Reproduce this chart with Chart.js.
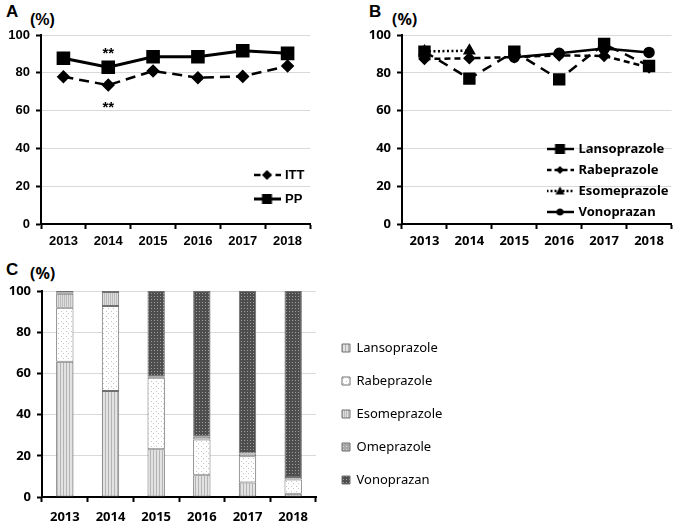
<!DOCTYPE html>
<html>
<head>
<meta charset="utf-8">
<script src="https://cdn.jsdelivr.net/npm/chart.js@4.4.1/dist/chart.umd.min.js"></script>
<style>
  body { margin: 0; background: #fff; width: 681px; height: 525px; position: relative; overflow: hidden; }
  canvas { position: absolute; }
  .lbl { position: absolute; color: #000; line-height: 1; white-space: nowrap; font-weight: bold; }
</style>
</head>
<body>
<div class="lbl" style="left:6px;top:3px;font-size:17px;font-family:'Liberation Sans'">A</div>
<div class="lbl" style="left:30px;top:12px;font-size:16px;font-family:'Liberation Sans'">(%)</div>
<div class="lbl" style="left:369px;top:3px;font-size:17px;font-family:'Liberation Sans'">B</div>
<div class="lbl" style="left:392px;top:11px;font-size:16px;font-family:'Noto Sans'">(%)</div>
<div class="lbl" style="left:6px;top:261px;font-size:17px;font-family:'Liberation Sans'">C</div>
<div class="lbl" style="left:30px;top:265px;font-size:16px;font-family:'Noto Sans'">(%)</div>

<canvas id="chartA" width="340" height="250" style="left:0;top:0"></canvas>
<canvas id="chartB" width="341" height="250" style="left:340px;top:0"></canvas>
<canvas id="chartC" width="681" height="275" style="left:0;top:250px"></canvas>

<script>
// data
const years = ['2013', '2014', '2015', '2016', '2017', '2018'];

// A: eradication rate, ITT / PP
const ittRate = [77.9, 73.5, 81.0, 77.4, 78.1, 83.6];
const ppRate = [87.7, 82.9, 88.5, 88.5, 91.7, 90.3];
const starYear = '2014';

// B: eradication rate by acid suppressant
const lansoRate = [91.2, 76.9, 91.2, 76.5, 95.2, 83.6];
const rabeRate = [87.3, 87.7, 88.3, 89.2, 88.9, 82.8];
const esoRate = [91.3, 91.7, null, null, null, null];
const vonoRate = [null, null, 88.2, 90.3, 92.8, 90.8];

// C: share of prescriptions (%)
const lansoShare = [65.6, 51.4, 23.2, 10.5, 7.0, 1.6];
const rabeShare = [26.3, 41.3, 34.7, 17.4, 12.8, 6.9];
const esoShare = [6.8, 6.8, 0.5, 1.3, 1.3, 1.2];
const omeShare = [1.3, 0.5, null, null, null, null];
const vonoShare = [null, null, 41.6, 70.8, 78.9, 90.3];

Chart.defaults.animation = false;
Chart.defaults.color = '#000';

const fontA = { family: "'Liberation Sans'", size: 13, weight: 'bold' };
const fontB = { family: "'Noto Sans'", size: 13, weight: 'bold' };

function yAxis(font, width) {
  return {
    min: 0,
    max: 100,
    ticks: { stepSize: 20, color: '#000', font: font, padding: 6 },
    grid: {
      color: ctx => ctx.tick && ctx.tick.value === 0 ? 'rgba(0,0,0,0)' : '#d9d9d9',
      tickColor: '#000',
      tickLength: 5,
      tickWidth: 2
    },
    border: { color: '#000', width: 2 },
    afterFit: s => { s.width = width; }
  };
}

function xAxis(font, height, pad) {
  return {
    offset: true,
    ticks: { color: '#000', font: font, padding: pad },
    grid: { offset: true, drawOnChartArea: false, tickColor: '#000', tickLength: 5, tickWidth: 2 },
    border: { color: '#000', width: 2 },
    afterFit: s => { s.height = height; }
  };
}

// moves the legend to a fixed spot on the canvas
const legendSpot = {
  id: 'legendSpot',
  afterLayout(chart, args, opts) {
    const lg = chart.legend;
    if (!lg || opts.left === undefined) return;
    lg.left = opts.left;
    lg.top = opts.top;
    lg.right = opts.left + 330;
    lg.bottom = opts.top + 300;
  }
};

// small line + marker image for the legend
function sample(dash, shape, size, lw) {
  const c = document.createElement('canvas');
  c.width = 27;
  c.height = 14;
  const g = c.getContext('2d');
  g.strokeStyle = '#000';
  g.lineWidth = lw;
  g.setLineDash(dash);
  g.beginPath();
  g.moveTo(0, 7);
  g.lineTo(27, 7);
  g.stroke();
  g.setLineDash([]);
  g.fillStyle = '#000';
  g.beginPath();
  const cx = 13.5, cy = 7;
  if (shape === 'rect') {
    g.rect(cx - size, cy - size, size * 2, size * 2);
  } else if (shape === 'diamond') {
    g.moveTo(cx, cy - size); g.lineTo(cx + size, cy); g.lineTo(cx, cy + size); g.lineTo(cx - size, cy);
    g.closePath();
  } else if (shape === 'triangle') {
    g.moveTo(cx, cy - size); g.lineTo(cx + size, cy + size * 0.8); g.lineTo(cx - size, cy + size * 0.8);
    g.closePath();
  } else {
    g.arc(cx, cy, size, 0, Math.PI * 2);
  }
  g.fill();
  return c;
}

function withSamples(samples) {
  return chart => Chart.defaults.plugins.legend.labels.generateLabels(chart)
    .map((item, i) => Object.assign(item, { pointStyle: samples[i] }));
}

// "**" marks above PP and below ITT
const stars = {
  id: 'stars',
  afterDatasetsDraw(chart) {
    const { ctx, scales: { x, y } } = chart;
    const i = years.indexOf(starYear);
    const px = x.getPixelForValue(i);
    ctx.save();
    ctx.font = 'bold 15px "Liberation Sans"';
    ctx.textAlign = 'center';
    ctx.fillStyle = '#000';
    ctx.fillText('**', px, y.getPixelForValue(ppRate[i]) - 9);
    ctx.fillText('**', px, y.getPixelForValue(ittRate[i]) + 27);
    ctx.restore();
  }
};

// ---- A ----
new Chart(document.getElementById('chartA'), {
  type: 'line',
  data: {
    labels: years,
    datasets: [
      {
        label: 'ITT', data: ittRate, borderColor: '#000', backgroundColor: '#000',
        borderWidth: 2.5, borderDash: [10, 6], pointStyle: 'rectRot', pointRadius: 5
      },
      {
        label: 'PP', data: ppRate, borderColor: '#000', backgroundColor: '#000',
        borderWidth: 3, pointStyle: 'rect', pointRadius: 7.5
      }
    ]
  },
  options: {
    responsive: false,
    layout: { padding: { left: 0, top: 35, right: 30, bottom: 0 } },
    scales: { x: xAxis(fontA, 26, 5), y: yAxis(fontA, 41) },
    plugins: {
      tooltip: { enabled: false },
      legend: {
        position: 'chartArea',
        align: 'start',
        labels: {
          usePointStyle: true,
          pointStyleWidth: 23,
          padding: 11,
          font: fontA,
          color: '#000',
          generateLabels: withSamples([sample([7, 4], 'diamond', 5, 2.5), sample([], 'rect', 5, 3)])
        }
      },
      legendSpot: { left: 244.5, top: 157.5 }
    }
  },
  plugins: [legendSpot, stars]
});

// ---- B ----
new Chart(document.getElementById('chartB'), {
  type: 'line',
  data: {
    labels: years,
    datasets: [
      {
        label: 'Lansoprazole', data: lansoRate, borderColor: '#000', backgroundColor: '#000',
        borderWidth: 2.5, borderDash: [10, 7], pointStyle: 'rect', pointRadius: 7
      },
      {
        label: 'Rabeprazole', data: rabeRate, borderColor: '#000', backgroundColor: '#000',
        borderWidth: 2.5, borderDash: [6, 4], pointStyle: 'rectRot', pointRadius: 4.5
      },
      {
        label: 'Esomeprazole', data: esoRate, borderColor: '#000', backgroundColor: '#000',
        borderWidth: 2.5, borderDash: [2, 2.5], pointStyle: 'triangle', pointRadius: 5
      },
      {
        label: 'Vonoprazan', data: vonoRate, borderColor: '#000', backgroundColor: '#000',
        borderWidth: 2.5, pointStyle: 'circle', pointRadius: 4.5
      }
    ]
  },
  options: {
    responsive: false,
    layout: { padding: { left: 0, top: 35, right: 5, bottom: 0 } },
    scales: { x: xAxis(fontB, 26, 4), y: yAxis(fontB, 62) },
    plugins: {
      tooltip: { enabled: false },
      legend: {
        position: 'chartArea',
        align: 'start',
        labels: {
          usePointStyle: true,
          pointStyleWidth: 24,
          padding: 8,
          font: fontB,
          color: '#000',
          generateLabels: withSamples([
            sample([], 'rect', 5, 2.5),
            sample([5, 3], 'diamond', 4, 2.5),
            sample([2, 2], 'triangle', 4.5, 2.5),
            sample([], 'circle', 3.5, 2.5)
          ])
        }
      },
      legendSpot: { left: 200, top: 134.5 }
    }
  },
  plugins: [legendSpot]
});

// ---- C ----
function pattern(w, h, bg, dots, fg) {
  const c = document.createElement('canvas');
  c.width = w;
  c.height = h;
  const g = c.getContext('2d');
  g.fillStyle = bg;
  g.fillRect(0, 0, w, h);
  g.fillStyle = fg;
  dots.forEach(d => g.fillRect(d[0], d[1], d[2] || 1, d[3] || 1));
  return g.createPattern(c, 'repeat');
}

const ctxC = document.getElementById('chartC').getContext('2d');
const fillLanso = pattern(3, 1, '#e2e2e2', [[0, 0]], '#b4b4b4');
const fillRabe = pattern(5, 5, '#ffffff', [[1, 1], [3, 3]], '#c4c4c4');
const fillEso = pattern(2, 1, '#dddddd', [[0, 0]], '#bcbcbc');
const fillOme = pattern(3, 3, '#a8a8a8', [[1, 1]], '#d8d8d8');
const fillVono = pattern(3, 3, '#4e4e4e', [[1, 1]], '#9c9c9c');

function barSet(label, data, fill) {
  return {
    label: label, data: data, backgroundColor: fill,
    borderColor: '#707070', borderWidth: 1, borderSkipped: false,
    barPercentage: 0.38, categoryPercentage: 1
  };
}

new Chart(ctxC, {
  type: 'bar',
  data: {
    labels: years,
    datasets: [
      barSet('Lansoprazole', lansoShare, fillLanso),
      barSet('Rabeprazole', rabeShare, fillRabe),
      barSet('Esomeprazole', esoShare, fillEso),
      barSet('Omeprazole', omeShare, fillOme),
      barSet('Vonoprazan', vonoShare, fillVono)
    ]
  },
  options: {
    responsive: false,
    layout: { padding: { left: 0, top: 41, right: 365, bottom: 0 } },
    scales: {
      x: Object.assign(xAxis(fontB, 28, 7), { stacked: true }),
      y: Object.assign(yAxis(fontB, 42), { stacked: true })
    },
    plugins: {
      tooltip: { enabled: false },
      legend: {
        position: 'chartArea',
        align: 'start',
        labels: {
          boxWidth: 8,
          boxHeight: 8,
          padding: 20,
          font: { family: "'Noto Sans'", size: 13 },
          color: '#000'
        }
      },
      legendSpot: { left: 322, top: 71.5 }
    }
  },
  plugins: [legendSpot]
});
</script>
</body>
</html>
